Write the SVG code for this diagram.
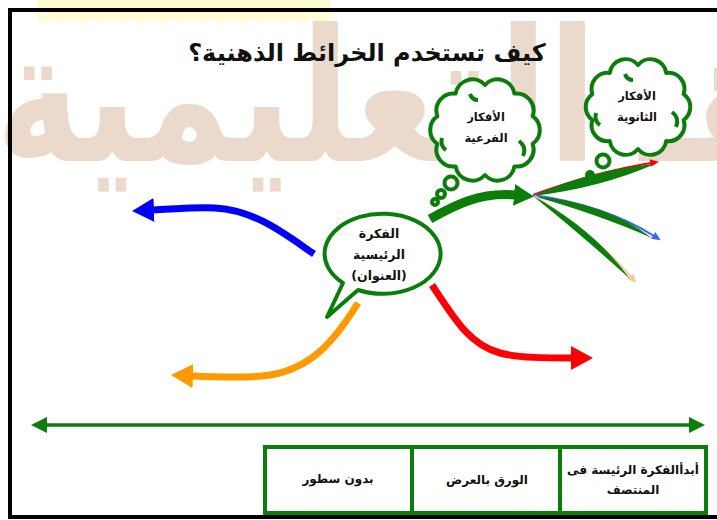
<svg xmlns="http://www.w3.org/2000/svg" width="717" height="520" viewBox="0 0 717 520">
<style>
.wm{font-family:"DejaVu Sans",sans-serif;font-weight:bold;fill:#ebdacb}
.t{font-family:"DejaVu Sans",sans-serif;font-weight:bold;fill:#111;text-anchor:middle}
.g{fill:none;stroke:#0b7d0b;stroke-width:4}
.cloud{fill:#fff;stroke:#0b7d0b;stroke-width:4;stroke-linejoin:round}
.thin{fill:none;stroke-width:2}
.lens{fill:#0b7d0b}
</style>
<defs>
<marker id="hb" markerUnits="userSpaceOnUse" markerWidth="24" markerHeight="26" refX="1" refY="12" orient="auto"><path d="M0,0 L22,12 L0,24 z" fill="#0000ff"/></marker>
<marker id="ho" markerUnits="userSpaceOnUse" markerWidth="24" markerHeight="26" refX="1" refY="12" orient="auto"><path d="M0,0 L22,12 L0,24 z" fill="#ff9900"/></marker>
<marker id="hr" markerUnits="userSpaceOnUse" markerWidth="24" markerHeight="26" refX="1" refY="12" orient="auto"><path d="M0,0 L22,12 L0,24 z" fill="#ff0000"/></marker>
<marker id="hg" markerUnits="userSpaceOnUse" markerWidth="24" markerHeight="26" refX="1" refY="11" orient="auto"><path d="M0,0 L20,11 L0,22 z" fill="#0b7d0b"/></marker>
<marker id="sr" markerUnits="userSpaceOnUse" markerWidth="10" markerHeight="10" refX="1" refY="4" orient="auto"><path d="M0,0 L9,4 L0,8 z" fill="#ff0000"/></marker>
<marker id="sb" markerUnits="userSpaceOnUse" markerWidth="10" markerHeight="10" refX="1" refY="4" orient="auto"><path d="M0,0 L9,4 L0,8 z" fill="#3366ff"/></marker>
<marker id="so" markerUnits="userSpaceOnUse" markerWidth="10" markerHeight="10" refX="1" refY="4" orient="auto"><path d="M0,0 L9,4 L0,8 z" fill="#f8c898"/></marker>
<marker id="dg" markerUnits="userSpaceOnUse" markerWidth="18" markerHeight="18" refX="1" refY="8" orient="auto-start-reverse"><path d="M0,0 L16,8 L0,16 z" fill="#0b7d0b"/></marker>
</defs>
<rect width="717" height="520" fill="#fff"/>
<g id="watermark">
<path d="M37,0 H330 V18 Q322,27 312,18 Q302,27 292,18 Q282,27 272,18 Q262,27 252,18 Q242,27 232,18 Q222,27 212,18 Q202,27 192,18 Q182,27 172,18 Q162,27 152,18 Q142,27 132,18 Q122,27 112,18 Q102,27 92,18 Q82,27 72,18 Q62,27 52,18 Q44,27 37,18 Z" fill="#fffbd2"/>
<g transform="translate(0,161) scale(1,1.15) translate(0,-161)">
<text class="wm" x="-4" y="161" font-size="160" textLength="601" lengthAdjust="spacingAndGlyphs">التعليمية</text>
<text class="wm" x="640" y="161" font-size="160">هـ</text>
</g>
</g>
<rect x="10" y="10" width="720" height="507" fill="none" stroke="#000" stroke-width="4"/>
<g id="title"><text class="t" x="367" y="61" font-size="24">كيف تستخدم الخرائط الذهنية؟</text></g>
<g id="connectors">
<path d="M314,254 C285,234 255,210 215,208 C195,207 175,209 153,210" fill="none" stroke="#0000ff" stroke-width="7" marker-end="url(#hb)"/>
<path d="M358,303 C335,340 310,372 262,376 C240,378 215,377 192,376" fill="none" stroke="#ff9900" stroke-width="7" marker-end="url(#ho)"/>
<path d="M432,285 C455,320 470,345 500,353 C520,358 545,358 572,358" fill="none" stroke="#ff0000" stroke-width="7" marker-end="url(#hr)"/>
<path d="M430,219 C455,205 480,192 515,195" fill="none" stroke="#0b7d0b" stroke-width="9" marker-end="url(#hg)"/>
<path d="M533,195 Q595,172 651,163" class="thin" stroke="#ff0000" marker-end="url(#sr)"/>
<path class="lens" d="M533,196 Q600,188 655,164 Q590,170 533,196 Z"/>
<path d="M533,195 Q605,205 654,236" class="thin" stroke="#3366ff" marker-end="url(#sb)"/>
<path class="lens" d="M533,196 Q600,215 652,238 Q605,202 533,196 Z"/>
<path d="M535,196 Q595,235 631,277" class="thin" stroke="#f8c898" marker-end="url(#so)"/>
<path class="lens" d="M533,196 Q585,238 630,279 Q595,230 533,196 Z"/>
<path d="M46,425 H690" fill="none" stroke="#0b7d0b" stroke-width="3.5" marker-start="url(#dg)" marker-end="url(#dg)"/>
</g>
<g id="main-idea">
<path class="cloud" d="M343,283 A58,40 0 1 1 358,290 L327,317 Z"/>
<text class="t" font-size="12.5"><tspan x="379" y="238">الفكرة</tspan><tspan x="379" y="259">الرئيسية</tspan><tspan x="379" y="280">(العنوان)</tspan></text>
</g>
<g id="sub-ideas">
<path class="cloud" d="M485,85 A17,17 0 0 1 514.4,93.6 A17,17 0 0 1 532.6,116.1 A17,17 0 0 1 532.6,143.9 A17,17 0 0 1 514.4,166.4 A17,17 0 0 1 485,175 A17,17 0 0 1 455.6,166.4 A17,17 0 0 1 437.4,143.9 A17,17 0 0 1 437.4,116.1 A17,17 0 0 1 455.6,93.6 A17,17 0 0 1 485,85 Z"/>
<path class="g" d="M519,141 q8,6 4,15 M446,150 q-6,-4 -4,-12 M470,94 q2,6 8,6"/>
<circle class="cloud" cx="451" cy="183" r="6.5"/>
<circle class="cloud" cx="441" cy="194" r="4"/>
<circle class="cloud" cx="435" cy="202" r="3"/>
<text class="t" font-size="11.5"><tspan x="486" y="121">الأفكار</tspan><tspan x="486" y="142">الفرعية</tspan></text>
</g>
<g id="secondary-ideas">
<path class="cloud" d="M638,65 A16,16 0 0 1 666.2,73 A16,16 0 0 1 683.6,94 A16,16 0 0 1 683.6,120 A16,16 0 0 1 666.2,141 A16,16 0 0 1 638,149 A16,16 0 0 1 609.8,141 A16,16 0 0 1 592.4,120 A16,16 0 0 1 592.4,94 A16,16 0 0 1 609.8,73 A16,16 0 0 1 638,65 Z"/>
<path class="g" d="M672,112 q8,6 4,15 M600,125 q-6,-4 -4,-12 M625,74 q2,6 8,6"/>
<circle class="cloud" cx="603" cy="161" r="6.5"/>
<circle cx="590" cy="175" r="5" fill="#0b7d0b"/>
<text class="t" font-size="11.5"><tspan x="637" y="100">الأفكار</tspan><tspan x="637" y="121">الثانوية</tspan></text>
</g>
<g id="table">
<rect x="265" y="447" width="441" height="66" fill="#fff" stroke="#0b7d0b" stroke-width="4"/>
<path d="M412,447 V513 M560,447 V513" stroke="#0b7d0b" stroke-width="4"/>
<text class="t" font-size="12" x="338" y="483">بدون سطور</text>
<text class="t" font-size="12" x="487" y="484">الورق بالعرض</text>
<text class="t" font-size="12"><tspan x="633" y="474">أبدأالفكرة الرئيسة فى</tspan><tspan x="633" y="494">المنتصف</tspan></text>
</g>
</svg>
